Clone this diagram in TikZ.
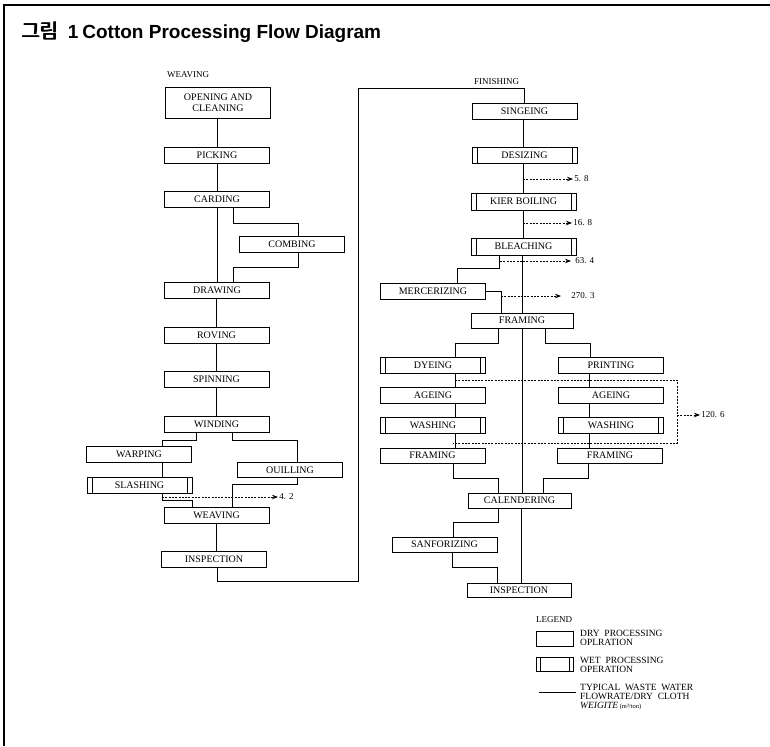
\documentclass[tikz,border=0pt]{standalone}
\usepackage{fontspec}
\setmainfont{Liberation Serif}
\newfontfamily\kr{Noto Sans CJK KR}
\newfontfamily\titlelat{Liberation Sans}
\usetikzlibrary{arrows.meta,calc}
\newcommand\heavykr[1]{\rlap{#1}\hspace{0.4pt}\rlap{#1}\hspace{0.4pt}#1}
\tikzset{
  box/.style={draw, line width=0.9pt, rectangle, inner sep=0pt, minimum width=105pt,
    minimum height=16pt, font=\fontsize{10}{10.5}\selectfont, align=center},
  wet/.style={box, path picture={
    \draw[line width=0.9pt]
      ([xshift=5pt]path picture bounding box.north west) -- ([xshift=5pt]path picture bounding box.south west)
      ([xshift=-5pt]path picture bounding box.north east) -- ([xshift=-5pt]path picture bounding box.south east);}},
  flow/.style={line width=0.9pt},
  waste/.style={line width=0.75pt, dash pattern=on 2pt off 1.3pt, -{Stealth[length=6pt,width=4.5pt]}},
  vlbl/.style={font=\fontsize{9}{10}\selectfont, anchor=west, inner sep=1pt},
  sect/.style={font=\fontsize{9}{10}\selectfont, anchor=west, inner sep=0pt},
  legtxt/.style={font=\fontsize{9.5}{9}\selectfont, anchor=north west, inner sep=0pt, align=left},
}
\begin{document}
\begin{tikzpicture}[x=1pt,y=-1pt]
\useasboundingbox (0,0) rectangle (770,746);
% frame
\draw[line width=1.2pt] (4,746) -- (4,5) -- (770,5);
% title
\node[anchor=west, inner sep=0pt, font=\fontsize{19}{22}\selectfont] (title) at (21,32) {{\kr\fontsize{20}{22}\selectfont\heavykr{그림}}\hspace{9pt}{\titlelat\bfseries 1\hspace{4pt}Cotton Processing Flow Diagram}};

% ---------------- WEAVING ----------------
\node[sect] (weavinglbl) at (167,75) {WEAVING};
\node[box, minimum height=31pt, font=\fontsize{10}{11}\selectfont] (open) at (218,102.5) {OPENING AND\\CLEANING};
\node[box] (pick) at (217,155.5) {PICKING};
\node[box] (card) at (217,199.5) {CARDING};
\node[box] (comb) at (292,244) {COMBING};
\node[box] (draw) at (217,290) {DRAWING};
\node[box] (rov) at (216.5,335) {ROVING};
\node[box] (spin) at (216.5,379.5) {SPINNING};
\node[box] (wind) at (216.5,424.5) {WINDING};
\node[box] (warp) at (139,454.5) {WARPING};
\node[wet] (slash) at (139.5,485) {SLASHING};
\node[box, minimum height=15pt] (quill) at (290,470) {OUILLING};
\node[box] (weave) at (216.5,515) {WEAVING};
\node[box] (insp1) at (214,559.5) {INSPECTION};

\draw[flow] (open.south -| pick.north) -- (pick.north);
\draw[flow] (pick.south) -- (card.north);
\draw[flow] (card.south) -- (draw.north);
\draw[flow] ([xshift=16pt]card.south) -- ++(0,15) -| ([xshift=6pt]comb.north);
\draw[flow] ([xshift=6pt]comb.south) -- ++(0,15) -| ([xshift=16pt]draw.north);
\draw[flow] (draw.south -| rov.north) -- (rov.north);
\draw[flow] (rov.south) -- (spin.north);
\draw[flow] (spin.south) -- (wind.north);
\draw[flow] ([xshift=-20.5pt]wind.south) -- ++(0,7.5) -| ([xshift=23pt]warp.north);
\draw[flow] ([xshift=15.5pt]wind.south) -- ++(0,7.5) -| ([xshift=7pt]quill.north);
\draw[flow] ([xshift=23pt]warp.south) -- ([xshift=23pt]warp.south |- slash.north);
\draw[flow] ([xshift=22.5pt]slash.south) -- ++(0,7) -| ([xshift=-24.5pt]weave.north);
\draw[flow] ([xshift=7pt]quill.south) -- ++(0,6) -| ([xshift=15.5pt]weave.north);
\draw[flow] (weave.south) -- (weave.south |- insp1.north);

\coordinate (w42) at (162,497);
\draw[waste] (w42) -- ++(116,0) node[vlbl] (l42) {4. 2};

% loop to finishing
\coordinate (lb) at (358,581);
\coordinate (lt) at (358,88);

% ---------------- FINISHING ----------------
\node[sect] (finlbl) at (474,82) {FINISHING};
\node[box] (sing) at (524.5,111) {SINGEING};
\node[wet] (desz) at (524.5,155) {DESIZING};
\node[wet, minimum height=17pt] (kier) at (523.5,201.5) {KIER BOILING};
\node[wet, minimum height=17pt] (bleach) at (523.5,246.5) {BLEACHING};
\node[box] (merc) at (433,291) {MERCERIZING};
\node[box, minimum width=102pt, minimum height=15pt] (fram1) at (522,320.5) {FRAMING};
\node[wet] (dye) at (433,365) {DYEING};
\node[box] (print) at (611,365) {PRINTING};
\node[box] (ageL) at (433,395) {AGEING};
\node[box] (ageR) at (611,395) {AGEING};
\node[wet] (washL) at (433,425) {WASHING};
\node[wet] (washR) at (611,425) {WASHING};
\node[box, minimum height=15pt] (framL) at (432.5,455.5) {FRAMING};
\node[box, minimum height=15pt] (framR) at (610,455.5) {FRAMING};
\node[box, minimum width=103pt, minimum height=15pt] (cal) at (519.5,500.5) {CALENDERING};
\node[box, minimum height=15pt] (sanf) at (444.5,544.5) {SANFORIZING};
\node[box, minimum width=104pt, minimum height=14pt] (insp2) at (519,590) {INSPECTION};

\draw[flow] ([xshift=3pt]insp1.south) |- (lb) -- (lt) -| (sing.north);

\coordinate (mx) at (523,0);
\draw[flow] (sing.south -| mx) -- (desz.north -| mx);
\draw[flow] (desz.south -| mx) -- (kier.north -| mx);
\draw[flow] (kier.south -| mx) -- (bleach.north -| mx);
\coordinate (my) at (522,0);
\draw[flow] (bleach.south -| my) -- (fram1.north -| my);
\draw[flow] (fram1.south -| my) -- (cal.north -| my);
\coordinate (mz) at (521,0);
\draw[flow] (cal.south -| mz) -- (insp2.north -| mz);

\draw[flow] ([xshift=-24.5pt]bleach.south) -- ++(0,13) -| ([xshift=24pt]merc.north);
\draw[flow] (merc.east) -| ([xshift=-21pt]fram1.north);
\draw[flow] ([xshift=-24pt]fram1.south) -- ++(0,15) -| ([xshift=22pt]dye.north);
\draw[flow] ([xshift=23pt]fram1.south) -- ++(0,15) -| ([xshift=-21pt]print.north);
\draw[flow] ([xshift=22pt]dye.south) -- ([xshift=22pt]ageL.north);
\draw[flow] ([xshift=22pt]ageL.south) -- ([xshift=22pt]washL.north);
\draw[flow] ([xshift=22pt]washL.south) -- ([xshift=22pt]washL.south |- framL.north);
\draw[flow] ([xshift=-22pt]print.south) -- ([xshift=-22pt]ageR.north);
\draw[flow] ([xshift=-22pt]ageR.south) -- ([xshift=-22pt]washR.north);
\draw[flow] ([xshift=-22pt]washR.south) -- ([xshift=-22pt]washR.south |- framR.north);
\draw[flow] ([xshift=21pt]framL.south) -- ++(0,14.5) -| ([xshift=-21.5pt]cal.north);
\draw[flow] ([xshift=-22pt]framR.south) -- ++(0,14.5) -| ([xshift=23.5pt]cal.north);
\draw[flow] ([xshift=-21.5pt]cal.south) -- ++(0,14) -| ([xshift=8.5pt]sanf.north);
\draw[flow] ([xshift=7.5pt]sanf.south) -- ++(0,14.5) -| ([xshift=-22pt]insp2.north);

% waste water flows
\coordinate (w58) at (523,179);
\draw[waste] (w58) -- ++(50,0) node[vlbl] (l58) {5. 8};
\coordinate (w168) at (523,223);
\draw[waste] (w168) -- ++(49,0) node[vlbl] (l168) {16. 8};
\coordinate (w634) at (500,261);
\draw[waste] (w634) -- ++(71,0) node[vlbl, xshift=3pt] (l634) {63. 4};
\coordinate (w2703) at (501,296);
\draw[waste] (w2703) -- ++(60,0) node[vlbl, xshift=9pt] (l2703) {270. 3};
\coordinate (d1) at (455,380);
\coordinate (d2) at (677,380);
\coordinate (d3) at (677,443);
\coordinate (d4) at (453,443);
\draw[line width=0.75pt, dash pattern=on 2pt off 1.3pt] (d1) -- (d2) -- (d3) -- (d4);
\coordinate (w1206) at (677,415);
\draw[waste] (w1206) -- ++(23,0) node[vlbl] (l1206) {120. 6};

% ---------------- LEGEND ----------------
\node[sect] (leglbl) at (536,620) {LEGEND};
\node[box, minimum width=37pt, minimum height=15pt] (legdry) at (554.5,638.5) {};
\node[legtxt] (legdrytxt) at (580,630) {DRY\ \ PROCESSING\\OPLRATION};
\node[box, minimum width=37pt, minimum height=14pt, path picture={
    \draw[line width=0.9pt]
      ([xshift=4pt]path picture bounding box.north west) -- ([xshift=4pt]path picture bounding box.south west)
      ([xshift=-4pt]path picture bounding box.north east) -- ([xshift=-4pt]path picture bounding box.south east);}] (legwet) at (554.5,664) {};
\node[legtxt] (legwettxt) at (580,657) {WET\ \ PROCESSING\\OPERATION};
\coordinate (legl1) at (539,692);
\coordinate (legl2) at (576,692);
\draw[flow] (legl1) -- (legl2);
\node[legtxt] (legflowtxt) at (580,684.5) {TYPICAL\ \ WASTE\ \ WATER\\FLOWRATE/DRY\ \ CLOTH\\\textit{WEIGITE}\,{\fontsize{6.5}{7}\selectfont(m³/ton)}};
\end{tikzpicture}
\end{document}
